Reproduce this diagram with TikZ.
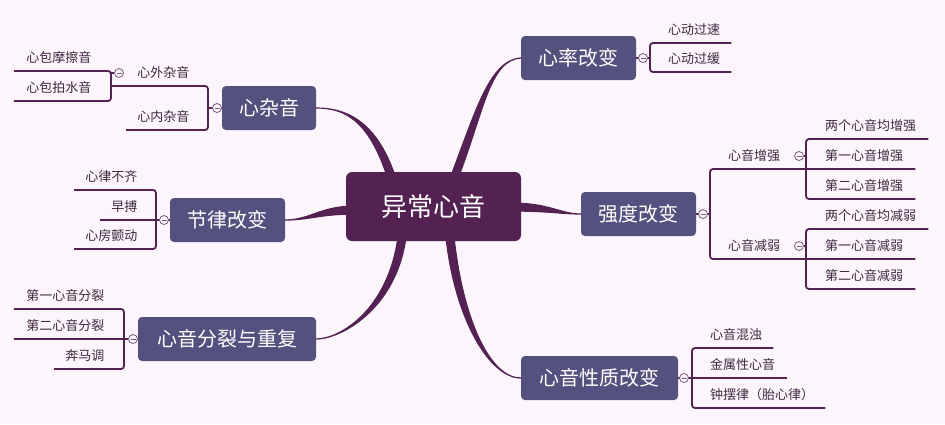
\documentclass[tikz,border=0pt]{standalone}
\usepackage{fontspec}
\setmainfont{Noto Sans CJK SC}
\usetikzlibrary{calc,backgrounds}
\definecolor{bgc}{HTML}{FCF6FC}
\definecolor{rootc}{HTML}{532252}
\definecolor{topicc}{HTML}{55517F}
\definecolor{leafc}{HTML}{402840}
\definecolor{foldc}{HTML}{7A5C7A}

\begin{document}
\begin{tikzpicture}[x=1pt,y=-1pt,
  root/.style={fill=rootc,text=white,rounded corners=6pt,minimum width=175pt,minimum height=69pt,inner sep=0pt,text height=20.5pt,text depth=0.7pt,font=\fontsize{26}{26}\selectfont},
  topic/.style={fill=topicc,text=white,rounded corners=4pt,minimum height=44pt,inner sep=0pt,text height=16pt,text depth=0.8pt,font=\fontsize{20}{20}\selectfont},
  leaf/.style={text=leafc,inner xsep=0pt,inner ysep=8pt,text height=10pt,text depth=0pt,font=\fontsize{13}{13}\selectfont},
  twig/.style={draw=rootc,line width=1.8pt,rounded corners=3pt},
  branch/.style={fill=rootc,draw=rootc,line width=1.2pt,line join=round},
  fold/.style={circle,draw=foldc,fill=bgc,line width=0.8pt,minimum size=9pt,inner sep=0pt,
    path picture={\draw[foldc,line width=0.8pt] ([xshift=-2.5pt]path picture bounding box.center) -- ([xshift=2.5pt]path picture bounding box.center);}}]
\useasboundingbox (0,0) rectangle (945,424);

% centre and main topics
\node[root] (root) at (433.5,206.5) {异常心音};
\node[topic,minimum width=115pt] (rate) at (578.5,58) {心率改变};
\node[topic,minimum width=115pt] (strength) at (638.5,214) {强度改变};
\node[topic,minimum width=157pt] (quality) at (599.5,378) {心音性质改变};
\node[topic,minimum width=94pt] (murmur) at (269,108) {心杂音};
\node[topic,minimum width=115pt] (rhythm) at (227.5,220) {节律改变};
\node[topic,minimum width=178pt] (split) at (227,339) {心音分裂与重复};

% right side leaves
\node[leaf,anchor=south west] (fast) at (668,43) {心动过速};
\node[leaf,anchor=south west] (slow) at (668,72) {心动过缓};
\node[leaf,anchor=south west] (up) at (728,169) {心音增强};
\node[leaf,anchor=south west] (up1) at (825,139) {两个心音均增强};
\node[leaf,anchor=south west] (up2) at (825,169) {第一心音增强};
\node[leaf,anchor=south west] (up3) at (825,199) {第二心音增强};
\node[leaf,anchor=south west] (down) at (728,259) {心音减弱};
\node[leaf,anchor=south west] (down1) at (825,229) {两个心音均减弱};
\node[leaf,anchor=south west] (down2) at (825,259) {第一心音减弱};
\node[leaf,anchor=south west] (down3) at (825,289) {第二心音减弱};
\node[leaf,anchor=south west] (turbid) at (710,348) {心音混浊};
\node[leaf,anchor=south west] (metal) at (710,378) {金属性心音};
\node[leaf,anchor=south west] (pendulum) at (710,408) {钟摆律（胎心律）};

% left side leaves
\node[leaf,anchor=south east] (outer) at (189.5,86) {心外杂音};
\node[leaf,anchor=south east] (inner) at (189.5,130) {心内杂音};
\node[leaf,anchor=south east] (rub) at (91.5,71) {心包摩擦音};
\node[leaf,anchor=south east] (splash) at (91.5,101) {心包拍水音};
\node[leaf,anchor=south east] (irregular) at (137.5,190) {心律不齐};
\node[leaf,anchor=south east] (premature) at (137.5,220) {早搏};
\node[leaf,anchor=south east] (af) at (137.5,249) {心房颤动};
\node[leaf,anchor=south east] (s1split) at (104.5,309) {第一心音分裂};
\node[leaf,anchor=south east] (s2split) at (104.5,339) {第二心音分裂};
\node[leaf,anchor=south east] (gallop) at (104.5,369) {奔马调};

% spines
\coordinate (rate-s) at (650,58);
\coordinate (str-s) at (710,214);
\coordinate (up-s) at (806,169);
\coordinate (down-s) at (806,259);
\coordinate (qual-s) at (692,378);
\coordinate (mur-s) at (208,108);
\coordinate (outer-s) at (111,86);
\coordinate (rhy-s) at (156,220);
\coordinate (split-s) at (124,339);

% fold buttons
\node[fold] (rate-c) at (643,58) {};
\node[fold] (str-c) at (703,214) {};
\node[fold] (up-c) at (799,156) {};
\node[fold] (down-c) at (799,246) {};
\node[fold] (qual-c) at (684,378) {};
\node[fold] (mur-c) at (217,108) {};
\node[fold] (outer-c) at (119,73) {};
\node[fold] (rhy-c) at (164,220) {};
\node[fold] (split-c) at (133,339) {};

\begin{scope}[on background layer]
\fill[bgc] (0,0) rectangle (945,424);
% tapered branches
\filldraw[branch] ($(root.north)+(17.5,4)$) .. controls (476,110) and (490,60) .. (rate.west)
  .. controls (490,60) and (484,110) .. ($(root.north)+(25.5,4)$) -- cycle;
\filldraw[branch] ($(root.north)+(-46.5,4)$) .. controls (368,120) and (345,108) .. (murmur.east)
  .. controls (345,108) and (376,120) .. ($(root.north)+(-38.5,4)$) -- cycle;
\filldraw[branch] ($(root.south)+(-35.5,-4)$) .. controls (388,310) and (340,339) .. (split.east)
  .. controls (340,339) and (396,310) .. ($(root.south)+(-27.5,-4)$) -- cycle;
\filldraw[branch] ($(root.south)+(12.5,-4)$) .. controls (455,320) and (490,378) .. (quality.west)
  .. controls (490,378) and (463,320) .. ($(root.south)+(20.5,-4)$) -- cycle;
\filldraw[branch] ($(root.east)+(-11,-3.5)$) .. controls (550,203) and (560,214) .. (strength.west)
  .. controls (560,214) and (550,211) .. ($(root.east)+(-11,4.5)$) -- cycle;
\filldraw[branch] ($(root.west)+(10,-0.5)$) .. controls (320,206) and (310,220) .. (rhythm.east)
  .. controls (310,220) and (320,214) .. ($(root.west)+(10,7.5)$) -- cycle;

% brackets and underlines
\draw[twig] (rate.east) -- (rate-s);
\draw[twig] ([xshift=11pt]fast.south east) -- (fast.south -| rate-s) -- (slow.south -| rate-s) -- ([xshift=11pt]slow.south east);

\draw[twig] (strength.east) -- (str-s);
\draw[twig] ([xshift=12pt]up2.south east) -- (up.south -| str-s) -- (down.south -| str-s) -- ([xshift=12pt]down2.south east);
\draw[twig] ([xshift=12pt]up1.south east) -- (up1.south -| up-s) -- (up3.south -| up-s) -- ([xshift=12pt]up3.south east);
\draw[twig] ([xshift=12pt]down1.south east) -- (down1.south -| down-s) -- (down3.south -| down-s) -- ([xshift=12pt]down3.south east);
\draw[twig] (up-c) -- (up-c -| up-s);
\draw[twig] (down-c) -- (down-c -| down-s);

\draw[twig] (quality.east) -- ([xshift=12pt]metal.south east);
\draw[twig] ([xshift=11pt]turbid.south east) -- (turbid.south -| qual-s) -- (pendulum.south -| qual-s) -- ([xshift=11pt]pendulum.south east);

\draw[twig] (murmur.west) -- (mur-s);
\draw[twig] (outer.south -| outer-s) -- (outer.south -| mur-s) -- (inner.south -| mur-s) -- ([xshift=-11pt]inner.south west);
\draw[twig] ([xshift=-12pt]rub.south west) -- (rub.south -| outer-s) -- (splash.south -| outer-s) -- ([xshift=-12pt]splash.south west);
\draw[twig] (outer-c) -- (outer-c -| outer-s);

\draw[twig] (rhythm.west) -- ([xshift=-11pt]premature.south west);
\draw[twig] ([xshift=-11pt]irregular.south west) -- (irregular.south -| rhy-s) -- (af.south -| rhy-s) -- ([xshift=-11pt]af.south west);

\draw[twig] (split.west) -- ([xshift=-12pt]s2split.south west);
\draw[twig] ([xshift=-12pt]s1split.south west) -- (s1split.south -| split-s) -- (gallop.south -| split-s) -- ([xshift=-11pt]gallop.south west);
\end{scope}
\end{tikzpicture}
\end{document}
